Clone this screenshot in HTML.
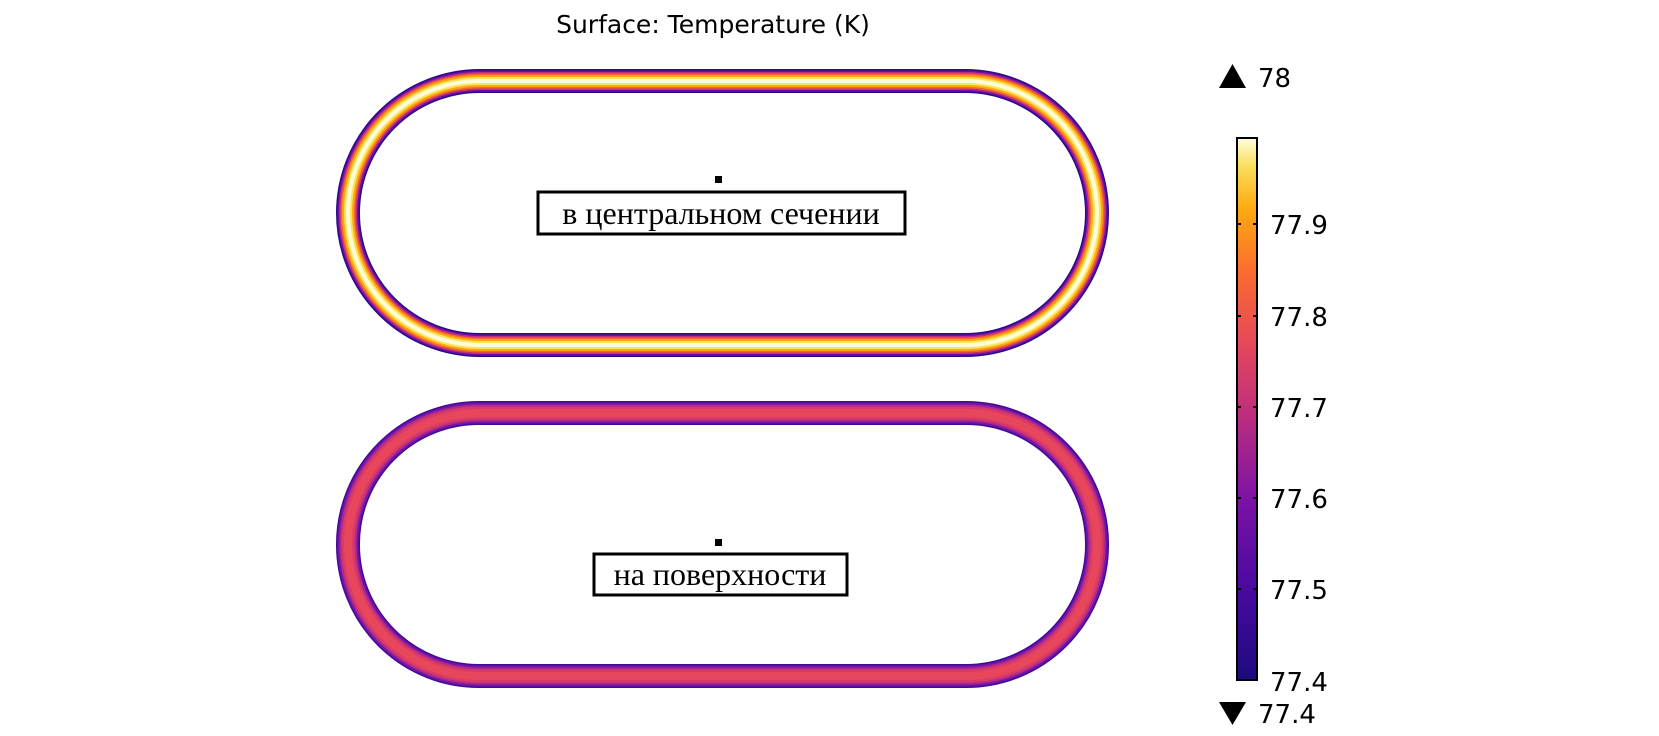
<!DOCTYPE html>
<html><head><meta charset="utf-8"><style>
html,body{margin:0;padding:0;background:#fff;}
svg{display:block;}
</style></head><body>
<svg width="1659" height="736" viewBox="0 0 1659 736" xmlns="http://www.w3.org/2000/svg">
<defs>
<linearGradient id="cb" x1="0" y1="1" x2="0" y2="0">
<stop offset="0" stop-color="#1d0a7e"/>
<stop offset="0.17" stop-color="#4a0aa0"/>
<stop offset="0.33" stop-color="#7b12a6"/>
<stop offset="0.5" stop-color="#c0307a"/>
<stop offset="0.62" stop-color="#e6485a"/>
<stop offset="0.75" stop-color="#fb6a30"/>
<stop offset="0.87" stop-color="#fcaa10"/>
<stop offset="0.95" stop-color="#fbe060"/>
<stop offset="1" stop-color="#fcfdde"/>
</linearGradient>
</defs>
<text x="713" y="33" text-anchor="middle" font-family="DejaVu Sans, sans-serif" font-size="25" fill="#000">Surface: Temperature (K)</text>

<g fill="none">
<rect x="348" y="81" width="749" height="264" rx="132" stroke="#2a0a8a" stroke-width="24"/>
<rect x="348" y="81" width="749" height="264" rx="132" stroke="#6a0fa8" stroke-width="21"/>
<rect x="348" y="81" width="749" height="264" rx="132" stroke="#c0307a" stroke-width="18"/>
<rect x="348" y="81" width="749" height="264" rx="132" stroke="#f5622f" stroke-width="15"/>
<rect x="348" y="81" width="749" height="264" rx="132" stroke="#fba80e" stroke-width="12"/>
<rect x="348" y="81" width="749" height="264" rx="132" stroke="#fbe35a" stroke-width="8"/>
<rect x="348" y="81" width="749" height="264" rx="132" stroke="#fdfbd8" stroke-width="4"/>

<rect x="348" y="413" width="749" height="263" rx="131" stroke="#3e0a9a" stroke-width="24"/>
<rect x="348" y="413" width="749" height="263" rx="131" stroke="#7414a6" stroke-width="21"/>
<rect x="348" y="413" width="749" height="263" rx="131" stroke="#b02a8a" stroke-width="17"/>
<rect x="348" y="413" width="749" height="263" rx="131" stroke="#d83a6a" stroke-width="13"/>
<rect x="348" y="413" width="749" height="263" rx="131" stroke="#e8465a" stroke-width="8"/>
</g>

<rect x="715" y="176" width="7" height="7" fill="#000"/>
<rect x="538" y="192" width="367" height="42" fill="#fff" stroke="#000" stroke-width="3"/>
<text x="721" y="224" text-anchor="middle" font-family="Liberation Serif, serif" font-size="32" fill="#000">в центральном сечении</text>

<rect x="715" y="539" width="7" height="7" fill="#000"/>
<rect x="594" y="554" width="253" height="41" fill="#fff" stroke="#000" stroke-width="3"/>
<text x="720" y="585" text-anchor="middle" font-family="Liberation Serif, serif" font-size="32" fill="#000">на поверхности</text>

<polygon points="1219,88 1246,88 1232.5,64" fill="#000"/>
<text x="1258" y="87" font-family="DejaVu Sans, sans-serif" font-size="26" fill="#000">78</text>

<rect x="1237" y="138" width="20" height="542" fill="url(#cb)" stroke="#000" stroke-width="2"/>
<g stroke="#000" stroke-width="2">
<line x1="1237" y1="224" x2="1241" y2="224"/><line x1="1253" y1="224" x2="1257" y2="224"/>
<line x1="1237" y1="316" x2="1241" y2="316"/><line x1="1253" y1="316" x2="1257" y2="316"/>
<line x1="1237" y1="407" x2="1241" y2="407"/><line x1="1253" y1="407" x2="1257" y2="407"/>
<line x1="1237" y1="498" x2="1241" y2="498"/><line x1="1253" y1="498" x2="1257" y2="498"/>
<line x1="1237" y1="589" x2="1241" y2="589"/><line x1="1253" y1="589" x2="1257" y2="589"/>
</g>
<g font-family="DejaVu Sans, sans-serif" font-size="26" fill="#000">
<text x="1270" y="234">77.9</text>
<text x="1270" y="326">77.8</text>
<text x="1270" y="417">77.7</text>
<text x="1270" y="508">77.6</text>
<text x="1270" y="599">77.5</text>
<text x="1270" y="691">77.4</text>
</g>
<polygon points="1219,702 1246,702 1232.5,725" fill="#000"/>
<text x="1258" y="723" font-family="DejaVu Sans, sans-serif" font-size="26" fill="#000">77.4</text>
</svg>
</body></html>
